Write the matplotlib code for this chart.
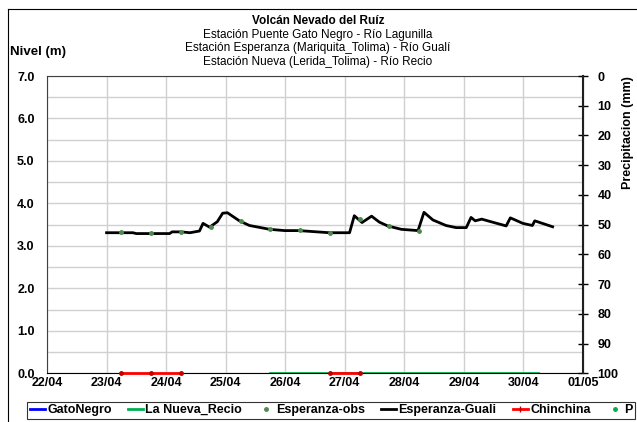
import matplotlib
matplotlib.use("Agg")
import matplotlib.pyplot as plt
import matplotlib.dates as mdates
from matplotlib.lines import Line2D
import pandas as pd

plt.rcParams['font.family'] = ['Liberation Sans', 'DejaVu Sans']

base = pd.Timestamp("2012-04-22")

# Esperanza-Guali level (day offset from 22/04, metres)
guali_day = [1.00, 1.44, 1.50, 1.75, 2.06, 2.10, 2.25, 2.40, 2.56, 2.62, 2.73, 2.86,
             2.95, 3.03, 3.23, 3.40, 3.74, 3.99, 4.23, 4.74, 5.08, 5.16, 5.29, 5.45,
             5.58, 5.72, 5.95, 6.23, 6.33, 6.48, 6.70, 6.87, 7.04, 7.12, 7.19, 7.30,
             7.40, 7.71, 7.78, 7.99, 8.15, 8.19, 8.49]
guali_val = [3.31, 3.31, 3.29, 3.29, 3.29, 3.33, 3.33, 3.31, 3.35, 3.53, 3.44, 3.57,
             3.77, 3.78, 3.59, 3.48, 3.39, 3.36, 3.36, 3.31, 3.31, 3.71, 3.55, 3.70,
             3.56, 3.47, 3.39, 3.36, 3.79, 3.61, 3.48, 3.43, 3.43, 3.67, 3.59, 3.63,
             3.59, 3.47, 3.66, 3.53, 3.48, 3.59, 3.45]

# Esperanza observed readings
obs_day = [1.25, 1.75, 2.25, 2.75, 3.25, 3.75, 4.25, 4.75, 5.25, 5.75, 6.25]
obs_val = [3.32, 3.30, 3.33, 3.45, 3.59, 3.39, 3.37, 3.31, 3.63, 3.47, 3.36]

# La Nueva_Recio
recio_day = [3.75, 8.25]
recio_val = [0.0, 0.0]

# Chinchina (two segments)
chin1_day = [1.25, 1.75, 2.25]
chin1_val = [0.0, 0.0, 0.0]
chin2_day = [4.75, 5.25]
chin2_val = [0.0, 0.0]

# GatoNegro and P have no data in this window
gato_day, gato_val = [], []
p_day, p_val = [], []


def to_time(days):
    return base + pd.to_timedelta(days, unit="D")


fig = plt.figure(figsize=(6.37, 4.22), dpi=100)
ax = fig.add_axes([47 / 637, 1 - 373.3 / 422, 536 / 637, (373.3 - 76) / 422])

ax.plot(to_time(gato_day), gato_val, color="#0000FF", lw=2)
ax.plot(to_time(recio_day), recio_val, color="#00B050", lw=2, zorder=3)
ax.plot(to_time(chin1_day), chin1_val, color="#FF0000", lw=2, marker="o", ms=2.5,
        mfc="#C00000", mec="#C00000", zorder=4, clip_on=False)
ax.plot(to_time(chin2_day), chin2_val, color="#FF0000", lw=2, marker="o", ms=2.5,
        mfc="#C00000", mec="#C00000", zorder=4, clip_on=False)
ax.plot(to_time(guali_day), guali_val, color="black", lw=2, zorder=3)
ax.plot(to_time(obs_day), obs_val, ls="none", marker="o", ms=2.5, color="#4E8A4E", zorder=4)

ax.set_xlim(base, base + pd.Timedelta(days=9))
ax.set_ylim(0, 7)
ax.xaxis.set_major_locator(mdates.DayLocator())
ax.xaxis.set_major_formatter(mdates.DateFormatter("%d/%m"))
ax.set_yticks([0, 1, 2, 3, 4, 5, 6, 7])
ax.set_yticks([0.5 * i for i in range(15)], minor=True)
ax.set_yticklabels([f"{v:.1f}" for v in range(8)])
ax.grid(True, which="major", axis="x", color="#D0D0D0", lw=1)
ax.grid(True, which="both", axis="y", color="#D0D0D0", lw=1)
ax.tick_params(axis="both", which="both", length=0, labelsize=9)
ax.tick_params(axis="y", pad=9)
ax.tick_params(axis="x", pad=3)
for lab in ax.get_xticklabels() + ax.get_yticklabels():
    lab.set_fontweight("bold")
for s in ax.spines.values():
    s.set_color("#404040")
    s.set_linewidth(0.8)
ax.spines["bottom"].set_color("black")
ax.set_axisbelow(True)

ax2 = ax.twinx()
ax2.plot(to_time(p_day), p_val, ls="none", marker="o", ms=2.5, color="#00B050")
ax2.set_ylim(100, 0)
ax2.set_yticks(range(0, 101, 10))
ax2.tick_params(axis="y", direction="inout", length=7, width=1, labelsize=9, pad=7)
for lab in ax2.get_yticklabels():
    lab.set_fontweight("bold")
ax2.spines["right"].set_linewidth(1.5)
ax2.spines["right"].set_color("#202020")
for k in ["left", "top", "bottom"]:
    ax2.spines[k].set_visible(False)

# titles
fig.text(318 / 637, 1 - 21 / 422, "Volcán Nevado del Ruíz", ha="center", va="center",
         fontsize=8.5, fontweight="bold")
fig.text(318 / 637, 1 - 35 / 422, "Estación Puente Gato Negro - Río Lagunilla",
         ha="center", va="center", fontsize=8.5)
fig.text(318 / 637, 1 - 48.5 / 422, "Estación Esperanza (Mariquita_Tolima) - Río Gualí",
         ha="center", va="center", fontsize=8.5)
fig.text(318 / 637, 1 - 62 / 422, "Estación Nueva (Lerida_Tolima) - Río Recio",
         ha="center", va="center", fontsize=8.5)
fig.text(10 / 637, 1 - 52 / 422, "Nivel (m)", ha="left", va="center",
         fontsize=9.5, fontweight="bold")
fig.text(628 / 637, 1 - 133 / 422, "Precipitacion (mm)", ha="center", va="center",
         rotation=90, fontsize=9, fontweight="bold")

# chart frame (left and top edges)
fig.add_artist(Line2D([8 / 637, 8 / 637], [0, 1 - 9 / 422], color="black", lw=0.8,
                      transform=fig.transFigure))
fig.add_artist(Line2D([8 / 637, 1], [1 - 9 / 422, 1 - 9 / 422], color="black", lw=0.8,
                      transform=fig.transFigure))

handles = [
    Line2D([], [], color="#0000FF", lw=2),
    Line2D([], [], color="#00B050", lw=2),
    Line2D([], [], ls="none", marker="o", ms=2.5, color="#4E8A4E"),
    Line2D([], [], color="black", lw=2),
    Line2D([], [], color="#FF0000", lw=2, marker="|", ms=4, mec="#C00000"),
    Line2D([], [], ls="none", marker="o", ms=2.5, color="#00B050"),
]
labels = ["GatoNegro", "La Nueva_Recio", "Esperanza-obs", "Esperanza-Guali", "Chinchina", "P"]
leg = fig.legend(handles, labels, loc="center", ncol=6, bbox_to_anchor=(0.52, 1 - 410 / 422),
                 frameon=True, fancybox=False, edgecolor="black", handlelength=1.2,
                 handletextpad=0.2, columnspacing=1.3, borderpad=0.2, borderaxespad=0,
                 prop={"size": 9, "weight": "bold"})
leg.get_frame().set_linewidth(0.8)

fig.savefig("out.png", dpi=100)
